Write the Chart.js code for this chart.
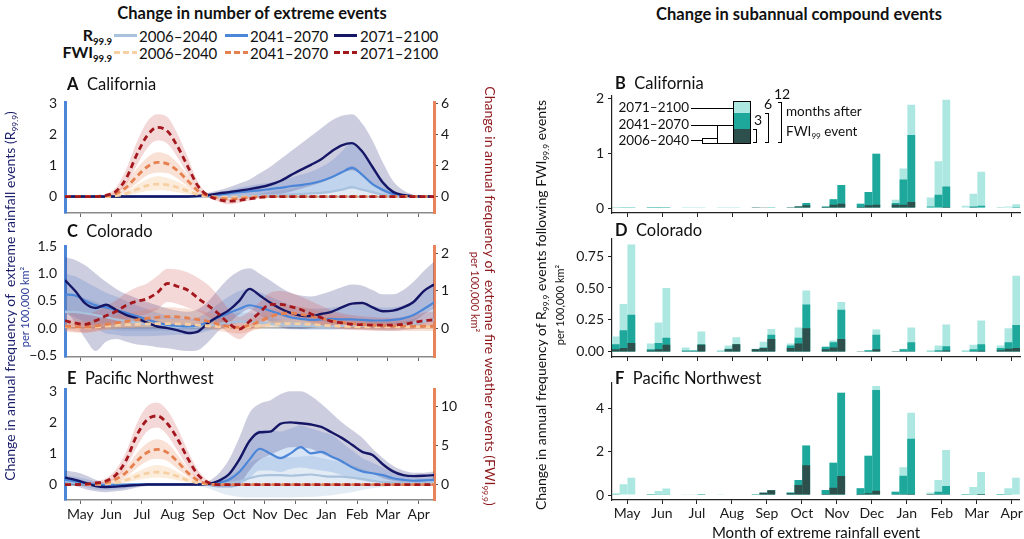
<!DOCTYPE html>
<html>
<head>
<meta charset="utf-8">
<script src="https://cdn.jsdelivr.net/npm/chart.js@4.4.0/dist/chart.umd.min.js"></script>
<style>
body{margin:0;width:1024px;height:539px;position:relative;background:#fff;font-family:Lato,"Open Sans",sans-serif;color:#111;overflow:hidden}
canvas{position:absolute}
.t{position:absolute;white-space:nowrap;z-index:5;line-height:1}
.c{transform:translate(-50%,-50%)}
.l{transform:translate(0,-50%)}
.r{transform:translate(-100%,-50%)}
.up{transform:translate(-50%,-50%) rotate(-90deg)}
.dn{transform:translate(-50%,-50%) rotate(90deg)}
.b{font-weight:bold}
sub{font-size:0.6em;vertical-align:-0.4em;line-height:0}
.ln{position:absolute;width:23px;height:3px;z-index:5}
.bx{position:absolute;box-sizing:border-box;border:1px solid #000;background:#fff;z-index:5}
.hl{position:absolute;height:0;border-top:1px solid #000;z-index:5}
.br{position:absolute;width:4px;box-sizing:border-box;border:1px solid #000;border-left:none;z-index:5}
</style>
</head>
<body>

<canvas id="cA" width="454" height="145" style="left:20px;top:86px"></canvas>
<canvas id="cC" width="454" height="145" style="left:20px;top:230px"></canvas>
<canvas id="cE" width="454" height="165" style="left:20px;top:373px"></canvas>
<canvas id="cB" width="452" height="148" style="left:572px;top:83px"></canvas>
<canvas id="cD" width="452" height="149" style="left:572px;top:226px"></canvas>
<canvas id="cF" width="452" height="168" style="left:572px;top:370px"></canvas>

<div class="t c b" style="left:252px;top:13px;font-size:16.5px">Change in number of extreme events</div>
<div class="t c b" style="left:799px;top:14px;font-size:16.5px">Change in subannual compound events</div>

<div class="t r b" style="left:112px;top:35px;font-size:16px">R<sub>99.9</sub></div>
<div class="t r b" style="left:112px;top:52px;font-size:16px">FWI<sub>99.9</sub></div>
<div class="ln" style="left:114px;top:34px;background:#a9c2dd"></div>
<div class="ln" style="left:225px;top:34px;background:#4b86d8"></div>
<div class="ln" style="left:334px;top:34px;background:#151766"></div>
<div class="ln" style="left:114px;top:51px;background:repeating-linear-gradient(90deg,#f6cfa2 0 6px,transparent 6px 9px)"></div>
<div class="ln" style="left:225px;top:51px;background:repeating-linear-gradient(90deg,#e6804f 0 6px,transparent 6px 9px)"></div>
<div class="ln" style="left:334px;top:51px;background:repeating-linear-gradient(90deg,#a3171d 0 6px,transparent 6px 9px)"></div>
<div class="t l" style="left:139px;top:36px;font-size:15px">2006–2040</div>
<div class="t l" style="left:250px;top:36px;font-size:15px">2041–2070</div>
<div class="t l" style="left:360px;top:36px;font-size:15px">2071–2100</div>
<div class="t l" style="left:139px;top:53px;font-size:15px">2006–2040</div>
<div class="t l" style="left:250px;top:53px;font-size:15px">2041–2070</div>
<div class="t l" style="left:360px;top:53px;font-size:15px">2071–2100</div>

<div class="t l" style="left:67px;top:84px;font-size:16.5px"><b>A</b>&nbsp; California</div>
<div class="t l" style="left:67px;top:231px;font-size:16.5px"><b>C</b>&nbsp; Colorado</div>
<div class="t l" style="left:67px;top:378px;font-size:16.5px"><b>E</b>&nbsp; Pacific Northwest</div>
<div class="t l" style="left:615px;top:83px;font-size:16.5px"><b>B</b>&nbsp; California</div>
<div class="t l" style="left:615px;top:230px;font-size:16.5px"><b>D</b>&nbsp; Colorado</div>
<div class="t l" style="left:615px;top:378px;font-size:16.5px"><b>F</b>&nbsp; Pacific Northwest</div>

<div class="t up" style="left:10px;top:296px;font-size:14px;color:#1b1e6a">Change in annual frequency of&nbsp; extreme rainfall events (R<sub>99.9</sub>)</div>
<div class="t up" style="left:24px;top:307px;font-size:11px;color:#2a3d99">per 100,000 km²</div>
<div class="t dn" style="left:490px;top:296px;font-size:14px;color:#8e1a1e">Change in annual frequency of&nbsp; extreme fire weather events (FWI<sub>99.9</sub>)</div>
<div class="t dn" style="left:475px;top:292px;font-size:11px;color:#8e1a1e">per 100,000 km²</div>
<div class="t up" style="left:541px;top:305px;font-size:14px">Change in annual frequency of R<sub>99.9</sub> events following FWI<sub>99.9</sub> events</div>
<div class="t up" style="left:559px;top:305px;font-size:11px">per 100,000 km²</div>
<div class="t c" style="left:816px;top:532px;font-size:15px">Month of extreme rainfall event</div>

<!-- inset key of panel B -->
<div class="t r" style="left:689px;top:108px;font-size:13.5px">2071–2100</div>
<div class="t r" style="left:689px;top:125px;font-size:13.5px">2041–2070</div>
<div class="t r" style="left:689px;top:141px;font-size:13.5px">2006–2040</div>
<div class="hl" style="left:691px;top:108px;width:42px"></div>
<div class="hl" style="left:691px;top:125px;width:27px"></div>
<div class="hl" style="left:691px;top:140px;width:12px"></div>
<div class="bx" style="left:702px;top:138px;width:16px;height:6px"></div>
<div class="bx" style="left:717px;top:125px;width:17px;height:19px"></div>
<div class="bx" style="left:733px;top:101px;width:18px;height:43px;background:linear-gradient(#ace7e2 0 11px,#1ea89c 11px 27px,#2e504c 27px)"></div>
<div class="br" style="left:753px;top:129px;height:14px"></div>
<div class="br" style="left:765px;top:113px;height:30px"></div>
<div class="br" style="left:778px;top:102px;height:41px"></div>
<div class="t c" style="left:758px;top:120px;font-size:14px">3</div>
<div class="t c" style="left:768px;top:104px;font-size:14px">6</div>
<div class="t c" style="left:782px;top:94px;font-size:14px">12</div>
<div class="t l" style="left:786px;top:112px;font-size:13.5px">months after</div>
<div class="t l" style="left:786px;top:132px;font-size:13.5px">FWI<sub>99</sub> event</div>

<script>
const months = ['May', 'Jun', 'Jul', 'Aug', 'Sep', 'Oct', 'Nov', 'Dec', 'Jan', 'Feb', 'Mar', 'Apr'];
const steps = [0,1,2,3,4,5,6,7,8,9,10,11,12,13,14,15,16,17,18,19,20,21,22,23,24,25,26,27,28,29,30,31,32,33,34,35,36]; // thirds of a month from 1 May
const monthIdx = [0,1,2,3,4,5,6,7,8,9,10,11];

// ---- A California: rainfall (left axis) ----
const caR1   = [0,0,0,0,0,0,0,0,0,0,0,0,0,0,0,0,0,0,0.02,0.03,0.04,0.05,0.07,0.08,0.1,0.12,0.16,0.22,0.3,0.22,0.14,0.06,0.02,0,0,0,0];
const caR1lo = [0,0,0,0,0,0,0,0,0,0,0,0,0,0,0,0,0,0,0,0,0,0,0,0,0,0,0,0,0,0,0,0,0,0,0,0,0];
const caR1hi = [0,0,0,0,0,0,0,0,0,0,0,0,0,0,0,0,0.01,0.03,0.05,0.1,0.15,0.2,0.25,0.32,0.4,0.5,0.6,0.8,1.0,0.75,0.45,0.2,0.05,0,0,0,0];
const caR2   = [0,0,0,0,0,0,0,0,0,0,0,0,0,0.01,0.03,0.06,0.1,0.14,0.17,0.2,0.24,0.28,0.33,0.37,0.42,0.5,0.62,0.78,0.92,0.7,0.4,0.22,0.08,0.03,0.01,0,0];
const caR2lo = [0,0,0,0,0,0,0,0,0,0,0,0,0,0,0,0,0,0,0,0,0,0,0.05,0.07,0.1,0.12,0.15,0.2,0.25,0.2,0.1,0.03,0,0,0,0,0];
const caR2hi = [0,0,0,0,0,0,0,0,0,0,0,0,0,0.03,0.06,0.12,0.2,0.28,0.35,0.4,0.45,0.52,0.6,0.7,0.8,0.95,1.15,1.45,1.75,1.5,1.0,0.55,0.2,0.06,0.02,0,0];
const caR3   = [0,0,0,0,0,0,0,0,0,0,0,0,0,0.02,0.05,0.1,0.14,0.19,0.24,0.3,0.38,0.5,0.68,0.86,1.02,1.2,1.45,1.65,1.72,1.45,0.95,0.45,0.15,0.05,0.01,0,0];
const caR3lo = [0,0,0,0,0,0,0,0,0,0,0,0,0,0,0,0,0,0,0,0,0.02,0.08,0.15,0.25,0.35,0.45,0.6,0.75,0.85,0.7,0.4,0.15,0.04,0,0,0,0];
const caR3hi = [0,0,0,0,0,0,0,0,0,0,0,0,0.02,0.05,0.12,0.2,0.3,0.42,0.55,0.75,0.95,1.2,1.45,1.7,1.95,2.2,2.45,2.6,2.65,2.35,1.8,1.1,0.5,0.2,0.06,0.01,0];
// ---- A California: fire weather (right axis) ----
const caF1   = [0,0,0,0,0,0.06,0.2,0.45,0.7,0.8,0.75,0.58,0.35,0.12,0.01,-0.04,-0.05,-0.04,-0.02,0,0,0,0,0,0,0,0,0,0,0,0,0,0,0,0,0,0];
const caF1lo = [0,0,0,0,0,0,0.08,0.2,0.35,0.4,0.38,0.28,0.15,0.04,0,-0.08,-0.1,-0.08,-0.04,0,0,0,0,0,0,0,0,0,0,0,0,0,0,0,0,0,0];
const caF1hi = [0,0,0,0,0,0.12,0.35,0.75,1.1,1.3,1.2,0.95,0.6,0.22,0.03,0,0,0,0,0,0,0,0,0,0,0,0,0,0,0,0,0,0,0,0,0,0];
const caF2   = [0,0,0,0,0.04,0.2,0.6,1.3,1.9,2.2,2.1,1.65,1.0,0.35,0.03,-0.1,-0.15,-0.12,-0.06,-0.02,0,0,0,0,0,0,0,0,0,0,0,0,0,0,0,0,0];
const caF2lo = [0,0,0,0,0,0.1,0.35,0.85,1.35,1.55,1.5,1.15,0.65,0.2,0,-0.2,-0.25,-0.2,-0.1,-0.03,0,0,0,0,0,0,0,0,0,0,0,0,0,0,0,0,0];
const caF2hi = [0,0,0,0,0.1,0.35,0.95,1.8,2.5,2.85,2.7,2.15,1.35,0.5,0.08,0,-0.05,-0.04,-0.02,0,0,0,0,0,0,0,0,0,0,0,0,0,0,0,0,0,0];
const caF3   = [0,0,0,0,0.08,0.35,1.2,2.7,3.9,4.45,4.2,3.2,1.9,0.65,0.05,-0.2,-0.3,-0.25,-0.15,-0.06,0,0,0,0,0,0,0,0,0,0,0,0,0,0,0,0,0];
const caF3lo = [0,0,0,0,0.02,0.2,0.8,2.0,3.1,3.6,3.4,2.5,1.4,0.4,-0.05,-0.35,-0.5,-0.4,-0.25,-0.1,-0.03,0,0,0,0,0,0,0,0,0,0,0,0,0,0,0,0];
const caF3hi = [0,0,0,0.03,0.15,0.6,1.8,3.5,4.8,5.3,5.1,4.0,2.5,0.9,0.15,-0.05,-0.15,-0.1,-0.05,0,0,0,0,0,0,0,0,0,0,0,0,0,0,0,0,0,0];

// ---- C Colorado: rainfall ----
const coR1   = [0.3,0.3,0.27,0.24,0.2,0.16,0.13,0.1,0.07,0.05,0.03,0.02,0.02,0.03,0.05,0.08,0.1,0.12,0.12,0.1,0.08,0.06,0.05,0.04,0.04,0.03,0.03,0.04,0.05,0.05,0.05,0.04,0.04,0.06,0.08,0.12,0.15];
const coR1lo = [0.05,0.04,0.02,0,-0.02,-0.04,-0.05,-0.05,-0.05,-0.05,-0.05,-0.05,-0.05,-0.05,-0.03,-0.02,-0.01,0,0,0,-0.01,-0.02,-0.02,-0.02,-0.02,-0.02,-0.02,-0.02,-0.02,-0.02,-0.02,-0.02,-0.02,-0.02,-0.01,0,0.02];
const coR1hi = [0.6,0.6,0.55,0.48,0.4,0.34,0.28,0.22,0.18,0.14,0.1,0.08,0.08,0.1,0.14,0.2,0.25,0.28,0.28,0.25,0.2,0.16,0.13,0.11,0.1,0.09,0.09,0.1,0.12,0.12,0.12,0.11,0.11,0.13,0.17,0.25,0.32];
const coR2   = [0.62,0.6,0.5,0.42,0.38,0.33,0.28,0.22,0.16,0.1,0.06,0.04,0.03,0.05,0.12,0.2,0.28,0.35,0.42,0.38,0.32,0.26,0.2,0.17,0.15,0.16,0.17,0.16,0.16,0.15,0.14,0.14,0.15,0.18,0.24,0.35,0.47];
const coR2lo = [0.25,0.2,0.1,0,-0.1,-0.12,-0.15,-0.15,-0.15,-0.14,-0.13,-0.12,-0.12,-0.1,-0.05,0,0.05,0.1,0.12,0.1,0.06,0.02,0,-0.02,-0.03,-0.03,-0.03,-0.02,-0.02,-0.02,-0.03,-0.04,-0.04,-0.02,0.02,0.08,0.15];
const coR2hi = [1.0,0.95,0.85,0.75,0.65,0.58,0.5,0.42,0.35,0.28,0.22,0.18,0.16,0.2,0.3,0.45,0.58,0.68,0.72,0.66,0.58,0.5,0.42,0.38,0.36,0.36,0.38,0.4,0.42,0.42,0.4,0.38,0.38,0.42,0.5,0.65,0.8];
const coR3   = [0.88,0.68,0.45,0.37,0.43,0.33,0.24,0.18,0.1,0.03,0,-0.04,-0.09,-0.06,0.1,0.22,0.33,0.5,0.72,0.6,0.47,0.36,0.28,0.23,0.22,0.26,0.3,0.38,0.45,0.46,0.38,0.31,0.32,0.38,0.48,0.68,0.8];
const coR3lo = [0.35,0.1,-0.2,-0.42,-0.25,-0.2,-0.25,-0.3,-0.32,-0.35,-0.37,-0.4,-0.42,-0.4,-0.25,-0.05,0.1,0.25,0.35,0.25,0.12,0.02,-0.02,-0.02,0,0.03,0.05,0.08,0.1,0.1,0.06,0.03,0.03,0.06,0.12,0.25,0.35];
const coR3hi = [1.3,1.25,1.15,1.0,0.85,0.72,0.62,0.55,0.48,0.42,0.36,0.32,0.3,0.35,0.5,0.72,0.92,1.05,1.1,1.0,0.88,0.75,0.65,0.6,0.58,0.62,0.68,0.75,0.8,0.78,0.7,0.62,0.62,0.7,0.85,1.05,1.22];
// ---- C Colorado: fire weather ----
const coF1   = [0.04,0.03,0.02,0.03,0.05,0.07,0.09,0.1,0.11,0.12,0.12,0.11,0.1,0.08,0.06,0.04,0.02,0.01,0.03,0.06,0.09,0.11,0.12,0.11,0.1,0.08,0.06,0.05,0.04,0.03,0.03,0.03,0.03,0.03,0.03,0.03,0.03];
const coF1lo = [-0.02,-0.03,-0.04,-0.03,-0.02,-0.01,0,0.01,0.01,0.02,0.02,0.02,0.01,0,-0.01,-0.02,-0.03,-0.04,-0.03,-0.01,0.01,0.02,0.03,0.02,0.01,0,0,-0.01,-0.02,-0.02,-0.02,-0.02,-0.02,-0.02,-0.02,-0.02,-0.02];
const coF1hi = [0.1,0.09,0.08,0.1,0.12,0.15,0.18,0.2,0.22,0.23,0.24,0.23,0.21,0.18,0.15,0.11,0.08,0.07,0.1,0.14,0.18,0.21,0.22,0.21,0.19,0.16,0.13,0.11,0.1,0.09,0.08,0.08,0.08,0.08,0.08,0.08,0.08];
const coF2   = [0.05,0.04,0.03,0.06,0.1,0.14,0.18,0.22,0.26,0.29,0.31,0.3,0.27,0.23,0.18,0.1,0.04,0.02,0.08,0.18,0.3,0.38,0.4,0.37,0.32,0.26,0.2,0.15,0.12,0.1,0.08,0.07,0.06,0.06,0.05,0.05,0.05];
const coF2lo = [-0.1,-0.12,-0.13,-0.1,-0.06,-0.02,0,0.02,0.04,0.06,0.07,0.06,0.04,0.02,-0.02,-0.08,-0.12,-0.15,-0.1,-0.02,0.08,0.15,0.18,0.16,0.12,0.08,0.04,0,-0.02,-0.04,-0.05,-0.06,-0.07,-0.07,-0.08,-0.08,-0.08];
const coF2hi = [0.22,0.2,0.18,0.22,0.28,0.34,0.4,0.45,0.5,0.54,0.56,0.55,0.52,0.48,0.42,0.32,0.22,0.18,0.25,0.38,0.5,0.6,0.62,0.58,0.52,0.45,0.38,0.32,0.28,0.25,0.22,0.2,0.18,0.18,0.17,0.17,0.17];
const coF3   = [0.2,0.13,0.1,0.2,0.33,0.45,0.62,0.72,0.79,0.95,1.2,1.12,1.02,0.8,0.6,0.38,0.12,-0.03,0.18,0.42,0.64,0.64,0.58,0.5,0.38,0.28,0.18,0.14,0.1,0.09,0.08,0.08,0.08,0.1,0.15,0.2,0.22];
const coF3lo = [-0.05,-0.1,-0.12,-0.08,0,0.1,0.22,0.32,0.38,0.5,0.7,0.65,0.55,0.45,0.3,0.1,-0.15,-0.3,-0.1,0.12,0.3,0.35,0.3,0.25,0.15,0.08,0,-0.03,-0.05,-0.06,-0.07,-0.08,-0.08,-0.06,-0.03,0,0.02];
const coF3hi = [0.45,0.4,0.38,0.45,0.6,0.75,0.95,1.1,1.2,1.4,1.6,1.58,1.5,1.35,1.15,0.85,0.5,0.3,0.45,0.7,0.95,1.0,0.95,0.85,0.72,0.6,0.48,0.4,0.35,0.32,0.3,0.28,0.28,0.3,0.35,0.42,0.45];

// ---- E Pacific Northwest: rainfall ----
const pnR1   = [0.1,0.07,0.03,0,0,0,0,0,0,0,0,0,0,0,0,0.02,0.05,0.1,0.2,0.28,0.3,0.3,0.28,0.3,0.32,0.28,0.25,0.25,0.22,0.18,0.12,0.08,0.06,0.05,0.05,0.06,0.08];
const pnR1lo = [0,-0.02,-0.05,-0.05,-0.05,-0.03,-0.02,-0.01,0,0,0,0,0,-0.05,-0.12,-0.25,-0.35,-0.4,-0.42,-0.42,-0.42,-0.42,-0.42,-0.4,-0.4,-0.38,-0.35,-0.3,-0.25,-0.18,-0.12,-0.08,-0.04,-0.02,0,0,0];
const pnR1hi = [0.2,0.15,0.08,0.03,0,0,0,0,0,0,0,0,0,0,0.03,0.1,0.25,0.45,0.7,0.85,0.9,0.9,0.88,0.9,0.92,0.85,0.78,0.72,0.62,0.5,0.38,0.25,0.18,0.15,0.14,0.15,0.18];
const pnR2   = [0.15,0.1,0.05,0,-0.02,-0.02,-0.01,0,0,0,0,0,0,0,0.01,0.05,0.15,0.4,0.8,1.15,1.0,0.85,1.0,1.2,1.0,1.05,0.9,0.75,0.55,0.42,0.36,0.3,0.2,0.15,0.12,0.13,0.15];
const pnR2lo = [0,-0.02,-0.08,-0.15,-0.18,-0.16,-0.12,-0.06,-0.02,0,0,0,0,-0.02,-0.05,-0.1,-0.1,-0.05,0.2,0.45,0.45,0.4,0.5,0.55,0.5,0.45,0.4,0.3,0.2,0.12,0.08,0.05,0.03,0.02,0.02,0.03,0.05];
const pnR2hi = [0.3,0.25,0.18,0.08,0.02,0.01,0.01,0,0,0,0,0,0,0,0.05,0.15,0.4,0.85,1.4,1.75,1.75,1.7,1.8,1.9,1.8,1.7,1.6,1.35,1.1,0.85,0.7,0.55,0.38,0.28,0.22,0.22,0.25];
const pnR3   = [0.22,0.15,0.05,-0.05,-0.08,-0.07,-0.04,-0.02,0,0,0,0,0,0,0.02,0.12,0.33,0.8,1.4,1.68,1.7,1.95,2.0,1.97,1.93,1.85,1.68,1.5,1.28,1.05,0.95,0.65,0.42,0.3,0.27,0.28,0.3];
const pnR3lo = [0,-0.05,-0.15,-0.22,-0.25,-0.22,-0.18,-0.1,-0.05,-0.03,-0.02,-0.02,-0.02,-0.02,-0.05,-0.1,-0.1,0,0.45,0.8,0.95,1.1,1.2,1.2,1.15,1.0,0.85,0.7,0.55,0.45,0.35,0.2,0.12,0.08,0.06,0.08,0.1];
const pnR3hi = [0.45,0.4,0.3,0.15,0.05,0.03,0.02,0.01,0.01,0.01,0.01,0.01,0.01,0.01,0.1,0.35,0.8,1.5,2.3,2.6,2.7,2.9,3.0,3.0,2.85,2.6,2.3,2.0,1.75,1.5,1.15,0.85,0.6,0.45,0.38,0.38,0.42];
// ---- E Pacific Northwest: fire weather ----
const pnF1   = [0,0,0,0.02,0.08,0.25,0.6,1.05,1.45,1.6,1.45,1.05,0.55,0.2,0.04,0,0,0,0,0,0,0,0,0,0,0,0,0,0,0,0,0,0,0,0,0,0];
const pnF1lo = [0,0,0,0,0.02,0.1,0.3,0.55,0.8,0.9,0.8,0.55,0.25,0.08,0.01,0,0,0,0,0,0,0,0,0,0,0,0,0,0,0,0,0,0,0,0,0,0];
const pnF1hi = [0,0,0,0.05,0.15,0.45,0.95,1.6,2.2,2.5,2.25,1.6,0.9,0.35,0.08,0,0,0,0,0,0,0,0,0,0,0,0,0,0,0,0,0,0,0,0,0,0];
const pnF2   = [0,0,0,0.1,0.25,0.7,1.6,3.0,4.1,4.5,4.1,2.9,1.5,0.5,0.08,0,0,0,0,0,0,0,0,0,0,0,0,0,0,0,0,0,0,0,0,0,0];
const pnF2lo = [0,0,0,0.03,0.1,0.35,1.0,2.1,3.0,3.3,3.0,2.0,1.0,0.25,0.02,0,0,0,0,0,0,0,0,0,0,0,0,0,0,0,0,0,0,0,0,0,0];
const pnF2hi = [0,0,0.02,0.2,0.45,1.1,2.3,4.0,5.3,5.8,5.3,3.8,2.1,0.8,0.15,0,0,0,0,0,0,0,0,0,0,0,0,0,0,0,0,0,0,0,0,0,0];
const pnF3   = [0,0,0.05,0.2,0.45,1.3,3.2,6.3,8.3,8.8,7.8,5.8,3.3,1.2,0.25,0,0,0,0,0,0,0,0,0,0,0,0,0,0,0,0,0,0,0,0,0,0];
const pnF3lo = [0,0,0,0.05,0.2,0.8,2.3,4.8,6.8,7.3,6.3,4.3,2.2,0.6,0.05,-0.2,-0.2,-0.2,-0.2,-0.2,-0.2,-0.2,-0.2,-0.2,-0.2,-0.2,-0.2,-0.2,-0.2,-0.2,-0.2,-0.2,-0.2,-0.2,-0.2,-0.2,-0.2];
const pnF3hi = [0,0,0.15,0.4,0.8,2.0,4.3,7.8,10.0,10.5,9.5,7.2,4.3,1.8,0.5,0.1,0,0,0,0,0,0,0,0,0,0,0,0,0,0,0,0,0,0,0,0,0];

// ---- bar panels: cumulative frequency within 3, 6, 12 months after FWI event ----
// B California
const caB1_3  = [0,0,0,0,0.005,0.005,0.02,0.02,0.06,0.01,0,0];
const caB1_6  = [0.005,0.003,0,0,0.005,0.005,0.03,0.08,0.09,0.03,0.01,0.005];
const caB1_12 = [0.01,0.005,0.002,0.002,0.01,0.005,0.03,0.08,0.15,0.19,0.04,0.01];
const caB2_3  = [0,0,0,0,0.005,0.03,0.06,0.05,0.06,0.01,0.005,0];
const caB2_6  = [0.005,0.003,0,0,0.01,0.03,0.16,0.29,0.52,0.24,0.03,0.01];
const caB2_12 = [0.02,0.005,0.002,0.003,0.01,0.03,0.16,0.29,0.72,0.85,0.26,0.03];
const caB3_3  = [0,0,0,0,0.01,0.05,0.08,0.06,0.11,0.02,0.01,0];
const caB3_6  = [0.005,0.003,0,0,0.015,0.09,0.42,0.99,1.33,0.39,0.04,0.02];
const caB3_12 = [0.02,0.01,0.003,0.003,0.02,0.09,0.42,0.99,1.88,1.97,0.66,0.07];
// D Colorado
const coB1_3  = [0.02,0.01,0.005,0.003,0.02,0.03,0.02,0.002,0.001,0.003,0.003,0.013];
const coB1_6  = [0.06,0.02,0.01,0.005,0.022,0.05,0.04,0.004,0.002,0.005,0.005,0.03];
const coB1_12 = [0.12,0.065,0.035,0.012,0.025,0.065,0.04,0.005,0.003,0.012,0.013,0.05];
const coB2_3  = [0.03,0.02,0.005,0.02,0.03,0.065,0.035,0.005,0.005,0.005,0.005,0.025];
const coB2_6  = [0.17,0.07,0.01,0.025,0.035,0.11,0.075,0.012,0.02,0.012,0.02,0.075];
const coB2_12 = [0.375,0.23,0.015,0.05,0.08,0.19,0.09,0.015,0.025,0.05,0.055,0.185];
const coB3_3  = [0.07,0.055,0.055,0.06,0.1,0.185,0.1,0.02,0.005,0.01,0.008,0.03];
const coB3_6  = [0.29,0.11,0.06,0.06,0.135,0.37,0.33,0.135,0.075,0.045,0.06,0.21];
const coB3_12 = [0.84,0.5,0.16,0.115,0.18,0.48,0.39,0.175,0.19,0.215,0.245,0.595];
// F Pacific Northwest
const pnB1_3  = [0,0,0,0,0,0.08,0.05,0.05,0.03,0.005,0,0];
const pnB1_6  = [0.01,0.005,0,0,0.005,0.12,0.23,0.31,0.15,0.02,0.005,0.005];
const pnB1_12 = [0.08,0.03,0.01,0.01,0.03,0.12,0.23,0.31,0.15,0.12,0.03,0.05];
const pnB2_3  = [0,0,0,0,0.1,0.46,0.34,0.08,0.03,0.01,0,0];
const pnB2_6  = [0.02,0.01,0,0,0.1,0.69,1.49,1.81,0.89,0.15,0.01,0.01];
const pnB2_12 = [0.5,0.18,0.03,0.02,0.1,0.69,1.49,1.81,1.28,0.69,0.37,0.31];
const pnB3_3  = [0,0,0,0,0.22,1.38,0.88,0.2,0.05,0.03,0.005,0];
const pnB3_6  = [0.02,0.01,0.005,0,0.22,2.29,4.72,4.85,2.6,0.42,0.05,0.02];
const pnB3_12 = [0.8,0.3,0.04,0.02,0.22,2.29,4.72,5.03,3.8,2.08,1.06,0.8];

// styles
const rainCol  = ['#a9c2dd', '#4b86d8', '#151766'];
const rainBand = ['rgba(169,194,221,0.32)', 'rgba(75,134,216,0.22)', 'rgba(60,60,135,0.26)'];
const fireCol  = ['#f6cfa2', '#e6804f', '#a3171d'];
const fireBand = ['rgba(247,206,160,0.38)', 'rgba(236,140,95,0.26)', 'rgba(205,75,75,0.22)'];
const barCol   = ['#2e504c', '#1ea89c', '#ace7e2'];

Chart.defaults.font.family = 'Lato, "Open Sans", sans-serif';
Chart.defaults.color = '#1a1a1a';
Chart.defaults.animation = false;
Chart.defaults.events = [];
Chart.defaults.plugins.legend.display = false;
Chart.defaults.plugins.tooltip.enabled = false;

const fmt = d => v => (d ? v.toFixed(d) : String(v)).replace('-', '\u2212');
const fixTicks = vals => s => { s.ticks = vals.map(v => ({value: v})); };

function band(lo, hi, color, axis, ord) {
  return [
    {data: lo, yAxisID: axis, borderWidth: 0, pointRadius: 0, fill: false, order: ord, cubicInterpolationMode: 'monotone'},
    {data: hi, yAxisID: axis, borderWidth: 0, pointRadius: 0, fill: '-1', backgroundColor: color, order: ord, cubicInterpolationMode: 'monotone'}
  ];
}

function lineChart(id, rain, fire, yl, yr, hX, showX) {
  const ds = [];
  rain.forEach((s, k) => ds.push(...band(s[1], s[2], rainBand[k], 'y', 30 - k)));
  fire.forEach((s, k) => ds.push(...band(s[1], s[2], fireBand[k], 'y2', 20 - k)));
  rain.forEach((s, k) => ds.push({data: s[0], yAxisID: 'y', borderColor: rainCol[k], borderWidth: k == 2 ? 2.4 : 2.2,
    pointRadius: 0, fill: false, order: 9 - k, cubicInterpolationMode: 'monotone'}));
  fire.forEach((s, k) => ds.push({data: s[0], yAxisID: 'y2', borderColor: fireCol[k], borderWidth: 2.8, borderDash: [6, 4],
    pointRadius: 0, fill: false, order: 3 - k, cubicInterpolationMode: 'monotone'}));

  new Chart(document.getElementById(id), {
    type: 'line',
    data: {labels: steps, datasets: ds},
    options: {
      responsive: false,
      layout: {padding: {top: 12, bottom: 12, left: 0, right: 0}},
      scales: {
        x: {type: 'linear', min: 0, max: 36,
          afterBuildTicks: s => { s.ticks = months.map((m, k) => ({value: 1.5 + 3 * k})); },
          afterFit: s => { s.height = hX; },
          ticks: {display: showX, autoSkip: false, maxRotation: 0, padding: 2, font: {size: 14}, callback: (v, i) => months[i]},
          grid: {drawOnChartArea: false, tickLength: 4, color: '#666'},
          border: {color: '#8a8a8a', width: 1.5}},
        y: {position: 'left', min: yl.min, max: yl.max, afterBuildTicks: fixTicks(yl.ticks), afterFit: s => { s.width = 45; },
          ticks: {padding: 8, font: {size: 14}, callback: fmt(yl.dec)},
          grid: {drawTicks: false, lineWidth: 1.5, color: c => (c.tick && c.tick.value === 0) ? '#a3a3a3' : 'rgba(0,0,0,0)'},
          border: {color: '#4b86d8', width: 3}},
        y2: {position: 'right', min: yr.min, max: yr.max, afterBuildTicks: fixTicks(yr.ticks), afterFit: s => { s.width = 40; },
          ticks: {padding: 3, font: {size: 14}, callback: fmt(0)},
          grid: {drawOnChartArea: false, tickLength: 4, color: '#555'},
          border: {color: '#e8845a', width: 3}}
      }
    }
  });
}

function barChart(id, periods, y, hX, showX) {
  const ds = [];
  [0, 1, 2].forEach(lag => periods.forEach((p, k) => ds.push({
    type: 'bar', data: p[lag], stack: 'p' + k, xAxisID: 'xb', yAxisID: 'y',
    backgroundColor: barCol[lag], order: lag + 1, categoryPercentage: 0.67, barPercentage: 1, borderWidth: 0
  })));
  new Chart(document.getElementById(id), {
    type: 'bar',
    data: {labels: monthIdx, datasets: ds},
    options: {
      responsive: false,
      layout: {padding: {top: 12, bottom: 12, left: 0, right: 4}},
      scales: {
        x: {type: 'linear', offset: false, min: -0.43, max: 11.23, afterBuildTicks: fixTicks(monthIdx), afterFit: s => { s.height = hX; },
          ticks: {display: showX, autoSkip: false, maxRotation: 0, padding: 1, font: {size: 14}, callback: (v, i) => months[i]},
          grid: {offset: false, drawOnChartArea: false, tickLength: 4, color: '#222'},
          border: {color: '#222', width: 1.2}},
        xb: {type: 'linear', display: false, offset: false, grid: {offset: false}, min: -0.33, max: 11.33},
        y: {stacked: false, min: y.min, max: y.max, afterBuildTicks: fixTicks(y.ticks), afterFit: s => { s.width = 40; },
          ticks: {padding: 4, font: {size: 14}, callback: fmt(y.dec)},
          grid: {drawOnChartArea: false, tickLength: 4, color: '#222'},
          border: {color: '#222', width: 1.2}}
      }
    }
  });
}

lineChart('cA',
  [[caR1, caR1lo, caR1hi], [caR2, caR2lo, caR2hi], [caR3, caR3lo, caR3hi]],
  [[caF1, caF1lo, caF1hi], [caF2, caF2lo, caF2hi], [caF3, caF3lo, caF3hi]],
  {min: -0.53, max: 3.03, ticks: [0, 1, 2, 3], dec: 0},
  {min: -1.06, max: 6.06, ticks: [0, 2, 4, 6]}, 6, false);
lineChart('cC',
  [[coR1, coR1lo, coR1hi], [coR2, coR2lo, coR2hi], [coR3, coR3lo, coR3hi]],
  [[coF1, coF1lo, coF1hi], [coF2, coF2lo, coF2hi], [coF3, coF3lo, coF3hi]],
  {min: -0.53, max: 1.5, ticks: [-0.5, 0, 0.5, 1, 1.5], dec: 1},
  {min: -0.78, max: 2.2, ticks: [0, 1, 2]}, 6, false);
lineChart('cE',
  [[pnR1, pnR1lo, pnR1hi], [pnR2, pnR2lo, pnR2hi], [pnR3, pnR3lo, pnR3hi]],
  [[pnF1, pnF1lo, pnF1hi], [pnF2, pnF2lo, pnF2hi], [pnF3, pnF3lo, pnF3hi]],
  {min: -0.5, max: 3.06, ticks: [0, 1, 2, 3], dec: 0},
  {min: -1.98, max: 12.2, ticks: [0, 5, 10]}, 26, true);

barChart('cB', [[caB1_3, caB1_6, caB1_12], [caB2_3, caB2_6, caB2_12], [caB3_3, caB3_6, caB3_12]],
  {min: -0.09, max: 2.05, ticks: [0, 1, 2], dec: 0}, 6, false);
barChart('cD', [[coB1_3, coB1_6, coB1_12], [coB2_3, coB2_6, coB2_12], [coB3_3, coB3_6, coB3_12]],
  {min: -0.04, max: 0.888, ticks: [0, 0.25, 0.5, 0.75], dec: 2}, 6, false);
barChart('cF', [[pnB1_3, pnB1_6, pnB1_12], [pnB2_3, pnB2_6, pnB2_12], [pnB3_3, pnB3_6, pnB3_12]],
  {min: -0.23, max: 5.2, ticks: [0, 2, 4], dec: 0}, 26, true);
</script>
</body>
</html>
